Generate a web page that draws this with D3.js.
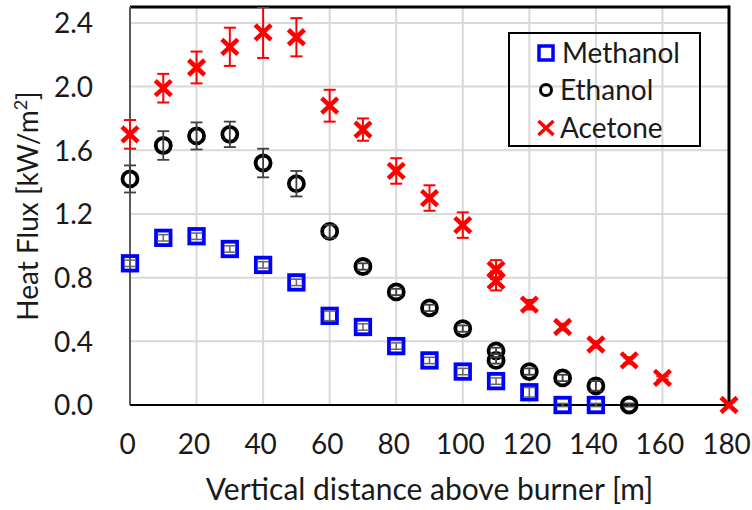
<!DOCTYPE html>
<html>
<head>
<meta charset="utf-8">
<script src="https://cdn.jsdelivr.net/npm/d3@7"></script>
<style>
  html, body { margin: 0; padding: 0; background: #fff; }
  svg { display: block; font-family: Lato, "Open Sans", sans-serif; }
</style>
</head>
<body>
<svg id="chart" width="752" height="510"></svg>
<script>
// ---- data ----
const methanolX = [0,10,20,30,40,50,60,70,80,90,100,110,120,130,140];
const methanolY = [0.89,1.05,1.06,0.98,0.88,0.77,0.56,0.49,0.37,0.28,0.21,0.15,0.08,0.0,0.0];
const methanolErr = [0.02,0.02,0.02,0.02,0.02,0.02,0.03,0.02,0.02,0.02,0.02,0.02,0.03,0.01,0.01];

const ethanolX = [0,10,20,30,40,50,60,70,80,90,100,110,110,120,130,140,150];
const ethanolY = [1.42,1.63,1.69,1.70,1.52,1.39,1.09,0.87,0.71,0.61,0.48,0.34,0.28,0.21,0.17,0.12,0.0];
const ethanolErr = [0.085,0.09,0.085,0.08,0.09,0.08,0.04,0.02,0.02,0.02,0.02,0.02,0.02,0.02,0.02,0.03,0.01];

const acetoneX = [0,10,20,30,40,50,60,70,80,90,100,110,110,120,130,140,150,160,180];
const acetoneY = [1.70,1.99,2.12,2.25,2.34,2.31,1.88,1.73,1.47,1.30,1.13,0.85,0.78,0.63,0.49,0.38,0.28,0.17,0.0];
const acetoneErr = [0.09,0.09,0.10,0.12,0.16,0.12,0.10,0.07,0.08,0.08,0.08,0.06,0.06,0.03,0.02,0.02,0.02,0.01,0.0];

const xTicks = [0,20,40,60,80,100,120,140,160,180];
const yTicks = [0.0,0.4,0.8,1.2,1.6,2.0,2.4];
const seriesNames = ["Methanol","Ethanol","Acetone"];

// ---- layout ----
const svg = d3.select("#chart");
const pLeft = 130, pRight = 729, pTop = 7, pBottom = 405;
const x = d3.scaleLinear().domain([0,180]).range([pLeft,pRight]);
const y = d3.scaleLinear().domain([0,2.5]).range([pBottom,pTop]);
const textColor = "#1a1a1a";

// gridlines
const grid = svg.append("g");
grid.selectAll("line.v").data(xTicks.slice(1)).join("line")
  .attr("x1", d => x(d)).attr("x2", d => x(d))
  .attr("y1", pTop).attr("y2", pBottom)
  .attr("stroke", "#d9d9d9").attr("stroke-width", 2);
grid.selectAll("line.h").data(yTicks.slice(1)).join("line")
  .attr("x1", pLeft).attr("x2", pRight)
  .attr("y1", d => y(d)).attr("y2", d => y(d))
  .attr("stroke", "#d9d9d9").attr("stroke-width", 2);

// axes
const xAxis = d3.axisBottom(x).tickValues(xTicks).tickSize(0).tickPadding(0).tickFormat(d3.format("d"));
const gx = svg.append("g").attr("transform", `translate(-3,${pBottom})`).call(xAxis);
gx.select(".domain").remove();
gx.selectAll("text").attr("y", 49).attr("dy", null)
  .attr("font-size", 28).attr("fill", textColor).attr("font-family", "Lato, sans-serif");

const yAxis = d3.axisLeft(y).tickValues(yTicks).tickSize(0).tickPadding(0).tickFormat(d3.format(".1f"));
const gy = svg.append("g").attr("transform", `translate(${pLeft},0)`).call(yAxis);
gy.select(".domain").remove();
gy.selectAll("text").attr("x", -37).attr("dy", "0.35em")
  .attr("font-size", 28).attr("fill", textColor).attr("font-family", "Lato, sans-serif");

// frame lines
svg.append("line").attr("x1", pLeft).attr("x2", pRight).attr("y1", pTop).attr("y2", pTop)
  .attr("stroke", "#000").attr("stroke-width", 3);
svg.append("line").attr("x1", pRight).attr("x2", pRight).attr("y1", pTop-1.5).attr("y2", pBottom)
  .attr("stroke", "#000").attr("stroke-width", 3);
svg.append("line").attr("x1", pLeft).attr("x2", pLeft).attr("y1", pTop).attr("y2", pBottom)
  .attr("stroke", "#595959").attr("stroke-width", 2);
svg.append("line").attr("x1", pLeft).attr("x2", pRight).attr("y1", pBottom).attr("y2", pBottom)
  .attr("stroke", "#000").attr("stroke-width", 2);

// clip
svg.append("clipPath").attr("id", "clip").append("rect")
  .attr("x", 0).attr("y", pTop).attr("width", 752).attr("height", 510 - pTop);

const plot = svg.append("g").attr("clip-path", "url(#clip)");

function errorBars(xs, ys, es, color, width) {
  const g = plot.append("g").attr("stroke", color).attr("stroke-width", width).attr("fill", "none");
  xs.forEach((xv, i) => {
    if (es[i] <= 0) return;
    const cx = x(xv), y1 = y(ys[i] + es[i]), y2 = y(ys[i] - es[i]);
    g.append("line").attr("x1", cx).attr("x2", cx).attr("y1", y1).attr("y2", y2);
    g.append("line").attr("x1", cx - 6).attr("x2", cx + 6).attr("y1", y1).attr("y2", y1);
    g.append("line").attr("x1", cx - 6).attr("x2", cx + 6).attr("y1", y2).attr("y2", y2);
  });
}

function squareMarker(g, cx, cy, s, sw) {
  g.append("rect").attr("x", cx - s/2).attr("y", cy - s/2).attr("width", s).attr("height", s)
    .attr("fill", "none").attr("stroke", "#0000ff").attr("stroke-width", sw);
}
function circleMarker(g, cx, cy, r, sw) {
  g.append("circle").attr("cx", cx).attr("cy", cy).attr("r", r)
    .attr("fill", "none").attr("stroke", "#000").attr("stroke-width", sw);
}
function crossMarker(g, cx, cy, hw, hh, sw) {
  g.append("path").attr("d", `M${cx-hw},${cy-hh}L${cx+hw},${cy+hh}M${cx-hw},${cy+hh}L${cx+hw},${cy-hh}`)
    .attr("stroke", "#ff0000").attr("stroke-width", sw).attr("fill", "none");
}

// Methanol
const gm = plot.append("g");
methanolX.forEach((xv, i) => squareMarker(gm, x(xv), y(methanolY[i]), 14.5, 3.8));
errorBars(methanolX, methanolY, methanolErr, "#666666", 1.5);

// Ethanol
const ge = plot.append("g");
ethanolX.forEach((xv, i) => circleMarker(ge, x(xv), y(ethanolY[i]), 7.5, 3.8));
errorBars(ethanolX, ethanolY, ethanolErr, "#404040", 1.8);

// Acetone
errorBars(acetoneX, acetoneY, acetoneErr, "#ff0000", 2);
const ga = plot.append("g");
acetoneX.forEach((xv, i) => crossMarker(ga, x(xv), y(acetoneY[i]), 8, 7.5, 4.5));

// axis titles
svg.append("text").attr("x", (pLeft + pRight) / 2).attr("y", 500)
  .attr("text-anchor", "middle").attr("font-size", 30).attr("fill", textColor)
  .text("Vertical distance above burner [m]");

const yt = svg.append("text").attr("transform", `translate(38,${(pTop+pBottom)/2}) rotate(-90)`)
  .attr("text-anchor", "middle").attr("font-size", 28).attr("fill", textColor);
yt.append("tspan").text("Heat Flux [kW/m");
yt.append("tspan").attr("font-size", 18).attr("dy", -11).text("2");
yt.append("tspan").attr("dy", 11).text("]");

// legend
const lg = svg.append("g");
lg.append("rect").attr("x", 509).attr("y", 33).attr("width", 191).attr("height", 113)
  .attr("fill", "none").attr("stroke", "#000").attr("stroke-width", 2);
const rowsY = [53, 90, 128];
squareMarker(lg, 546, rowsY[0], 14, 3.5);
circleMarker(lg, 546, rowsY[1], 5.5, 3);
crossMarker(lg, 546, rowsY[2], 7.5, 7, 3.5);
seriesNames.forEach((n, i) => {
  lg.append("text").attr("x", i === 0 ? 562 : 560).attr("y", rowsY[i]).attr("dy", "0.35em")
    .attr("font-size", 28).attr("fill", textColor).text(n);
});
</script>
</body>
</html>
